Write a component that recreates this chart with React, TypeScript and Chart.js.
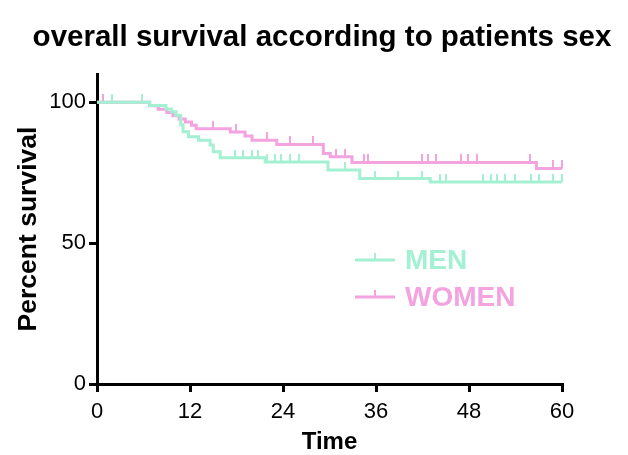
import React, { useEffect, useRef } from "react";
import { Chart, registerables } from "chart.js";

Chart.register(...registerables);

const TITLE = "overall survival according to patients sex";
const X_TITLE = "Time";
const Y_TITLE = "Percent survival";
const X_TICKS = [0, 12, 24, 36, 48, 60];
const Y_TICKS = [0, 50, 100];
const SERIES_NAMES = ["MEN", "WOMEN"];
const COLORS = ["#a3f0d3", "#f2a3e0"];

// Kaplan-Meier steps: [time, percent survival after the event]
const MEN_STEPS: [number, number][] = [
  [0, 100], [6.8, 98.8], [8.9, 97.6], [9.6, 96.6], [10.2, 95.4], [10.8, 92.0],
  [11.1, 89.5], [11.8, 87.7], [13.1, 86.5], [14.6, 84.8], [15.0, 82.4],
  [15.9, 80.3], [21.7, 78.8], [29.8, 75.9], [33.9, 72.9], [43.0, 71.7], [60, 71.7],
];
const WOMEN_STEPS: [number, number][] = [
  [0, 100], [6.8, 98.7], [7.9, 97.5], [9.0, 96.3], [9.8, 95.2], [10.6, 94.0],
  [11.4, 93.0], [12.2, 91.8], [12.8, 90.6], [17.2, 89.4], [19.1, 88.0],
  [20.0, 86.5], [23.2, 85.0], [29.2, 81.8], [30.1, 80.6], [32.9, 78.6],
  [56.7, 76.5], [60, 76.5],
];
// Censored observations: [time, percent survival]
const MEN_CENSORED: [number, number][] = [
  [1.9, 100], [5.8, 100], [17.8, 80.3], [18.9, 80.3], [20.0, 80.3], [20.8, 80.3],
  [21.9, 78.8], [23.0, 78.8], [23.8, 78.8], [24.9, 78.8], [26.0, 78.8],
  [32.0, 75.9], [35.9, 72.9], [38.8, 72.9], [41.9, 72.9], [44.3, 71.7],
  [45.0, 71.7], [49.8, 71.7], [50.8, 71.7], [51.6, 71.7], [52.7, 71.7],
  [53.9, 71.7], [56.0, 71.7], [57.0, 71.7], [58.9, 71.7], [60, 71.7],
];
const WOMEN_CENSORED: [number, number][] = [
  [0.8, 100], [15.0, 90.6], [17.9, 89.4], [21.9, 86.5], [24.9, 85.0],
  [27.9, 85.0], [30.9, 80.6], [32.0, 80.6], [34.4, 78.6], [35.0, 78.6],
  [41.9, 78.6], [42.7, 78.6], [43.8, 78.6], [47.0, 78.6], [47.9, 78.6],
  [49.0, 78.6], [55.9, 78.6], [58.9, 76.5], [60, 76.5],
];

const FONT = "'Liberation Sans', Arial, Helvetica, sans-serif";

function tickImage(color: string): HTMLCanvasElement {
  const c = document.createElement("canvas");
  c.width = 2;
  c.height = 16;
  const g = c.getContext("2d")!;
  g.fillStyle = color;
  g.fillRect(0, 0, 2, 8);
  return c;
}

const toXY = (arr: [number, number][]) => arr.map(([x, y]) => ({ x, y }));

export default function App() {
  const ref = useRef<HTMLCanvasElement | null>(null);

  useEffect(() => {
    if (!ref.current) return;
    const imgs = COLORS.map(tickImage);

    const overlay = {
      id: "overlay",
      afterDraw(chart: any) {
        const ctx = chart.ctx as CanvasRenderingContext2D;
        ctx.save();
        ctx.fillStyle = "#000";
        ctx.font = `bold 29.5px ${FONT}`;
        ctx.textAlign = "center";
        ctx.textBaseline = "alphabetic";
        ctx.fillText(TITLE, 322, 46);
        // legend
        const rows = [260, 297];
        SERIES_NAMES.forEach((name, i) => {
          const y = rows[i];
          ctx.strokeStyle = COLORS[i];
          ctx.lineWidth = 3;
          ctx.beginPath();
          ctx.moveTo(355, y);
          ctx.lineTo(395, y);
          ctx.stroke();
          ctx.lineWidth = 2;
          ctx.beginPath();
          ctx.moveTo(375, y);
          ctx.lineTo(375, y - 7);
          ctx.stroke();
          ctx.fillStyle = COLORS[i];
          ctx.font = `bold 28px ${FONT}`;
          ctx.textAlign = "left";
          ctx.textBaseline = "middle";
          ctx.fillText(name, 405, y + 1);
        });
        ctx.restore();
      },
    };

    const chart = new Chart(ref.current, {
      type: "line",
      data: {
        datasets: [
          {
            label: SERIES_NAMES[0],
            data: toXY(MEN_STEPS),
            borderColor: COLORS[0],
            borderWidth: 3,
            stepped: true,
            pointRadius: 0,
            fill: false,
          },
          {
            label: SERIES_NAMES[1],
            data: toXY(WOMEN_STEPS),
            borderColor: COLORS[1],
            borderWidth: 3,
            stepped: true,
            pointRadius: 0,
            fill: false,
          },
          {
            label: SERIES_NAMES[0] + " censored",
            data: toXY(MEN_CENSORED),
            showLine: false,
            pointStyle: imgs[0] as any,
            pointRadius: 3,
            clip: false as any,
          },
          {
            label: SERIES_NAMES[1] + " censored",
            data: toXY(WOMEN_CENSORED),
            showLine: false,
            pointStyle: imgs[1] as any,
            pointRadius: 3,
            clip: false as any,
          },
        ],
      },
      options: {
        animation: false,
        responsive: false,
        events: [],
        layout: { padding: { left: 0, right: 66, top: 74, bottom: 0 } },
        plugins: {
          legend: { display: false },
          title: { display: false },
          tooltip: { enabled: false },
        },
        scales: {
          x: {
            type: "linear",
            min: 0,
            max: 60,
            afterBuildTicks: (s: any) => {
              s.ticks = X_TICKS.map((v) => ({ value: v }));
            },
            afterFit: (s: any) => {
              s.height = 71;
            },
            grid: {
              drawOnChartArea: false,
              color: "#000",
              lineWidth: 3,
              tickLength: 8,
            },
            border: { color: "#000", width: 3 },
            ticks: {
              color: "#000",
              font: { size: 22, family: FONT },
              padding: 7,
              maxRotation: 0,
            },
            title: {
              display: true,
              text: X_TITLE,
              color: "#000",
              font: { size: 24, weight: "bold", family: FONT },
              padding: { top: 0, bottom: -2 },
            },
          },
          y: {
            type: "linear",
            min: 0,
            max: 110,
            afterBuildTicks: (s: any) => {
              s.ticks = Y_TICKS.map((v) => ({ value: v }));
            },
            afterFit: (s: any) => {
              s.width = 97;
            },
            grid: {
              drawOnChartArea: false,
              color: "#000",
              lineWidth: 3,
              tickLength: 8,
            },
            border: { color: "#000", width: 3 },
            ticks: {
              color: "#000",
              font: { size: 22, family: FONT },
              padding: 3,
            },
            title: {
              display: true,
              text: Y_TITLE,
              color: "#000",
              font: { size: 26.5, weight: "bold", family: FONT },
              padding: { top: 13, bottom: 0 },
            },
          },
        },
      },
      plugins: [overlay],
    } as any);

    return () => chart.destroy();
  }, []);

  return (
    <div
      style={{
        position: "fixed",
        left: 0,
        top: 0,
        width: 628,
        height: 455,
        background: "#fff",
      }}
    >
      <canvas ref={ref} width={628} height={455} />
    </div>
  );
}
